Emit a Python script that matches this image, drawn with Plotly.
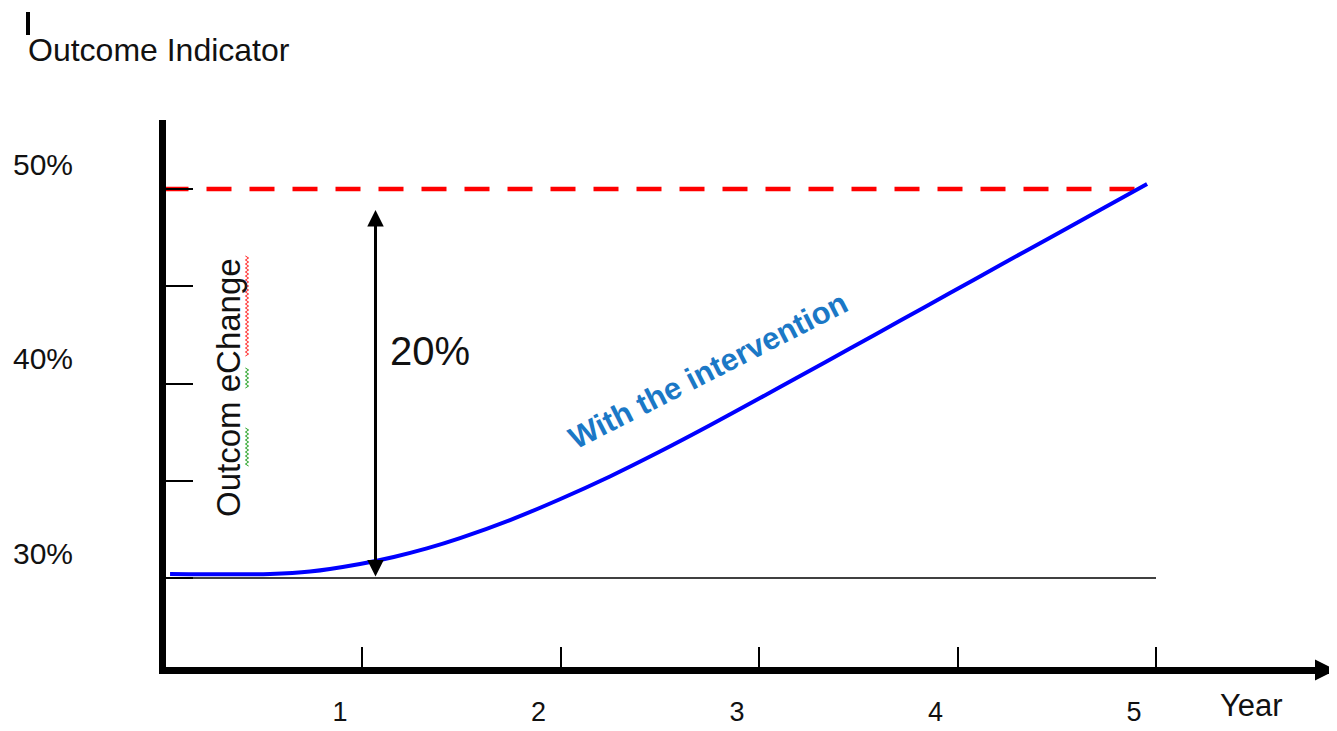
import numpy as np
import plotly.graph_objects as go

# ---------------- data ----------------
years = [1, 2, 3, 4, 5]
year_labels = ["1", "2", "3", "4", "5"]
y_ticks = [30, 35, 40, 45, 50]
y_tick_labels = ["30%", "", "40%", "", "50%"]

curve_x = [0.033, 0.537, 0.738, 0.990, 1.160, 1.327, 1.494, 1.746, 1.997, 2.249, 2.501,
           2.753, 3.005, 3.207, 3.458, 3.710, 3.962, 4.214, 4.466, 4.718, 4.955]
curve_y = [30.21, 30.21, 30.33, 30.72, 31.08, 31.52, 32.05, 32.98, 34.05, 35.22, 36.50,
           37.85, 39.25, 40.38, 41.80, 43.22, 44.65, 46.08, 47.50, 48.92, 50.26]

baseline_value = 30
target_value = 50
target_x = [0.0, 4.955]
baseline_x = [0.0, 5.0]
change_x = 1.068
change_top = 48.92
change_label = "20%"

# ---------------- layout constants (target pixels) ----------------
W, H = 1337, 731
OFF = 8                      # page body margin in the browser
X0PX, XS = 163.5, 198.5      # px of x=0, px per year
Y50PX, YS = 189.0, 19.45     # px of 50%, px per percentage point
L, R, T, B = 166, 1330, 120, 667   # plot-area edges (target pixels)

def px2x(px):
    return (px - X0PX) / XS

def py2y(py):
    return 50 - (py - Y50PX) / YS

def pxpaper(px):
    return (px - L) / (R - L)

def pypaper(py):
    return (B - py) / (B - T)

FONT = "Arial, Liberation Sans, sans-serif"

fig = go.Figure()

# target dashed line
fig.add_trace(go.Scatter(x=target_x, y=[target_value] * 2, mode="lines",
                         line=dict(color="#ff0000", width=4.5, dash="25px,18px"),
                         hoverinfo="skip"))
# baseline thin line
fig.add_trace(go.Scatter(x=baseline_x, y=[baseline_value] * 2, mode="lines",
                         line=dict(color="#000000", width=1.5), hoverinfo="skip"))
# intervention curve
fig.add_trace(go.Scatter(x=curve_x, y=curve_y, mode="lines",
                         line=dict(color="#0000ff", width=4, shape="spline", smoothing=0.8),
                         hoverinfo="skip"))

# spell-check squiggles beside the rotated label (decoration)
def squiggle(px, py0, py1, color):
    ys = np.arange(py0, py1 + 0.1, 2.0)
    xs = px + np.where(np.arange(len(ys)) % 2 == 0, -1.6, 1.6)
    fig.add_trace(go.Scatter(x=px2x(xs), y=py2y(ys), mode="lines",
                             line=dict(color=color, width=1), hoverinfo="skip"))

squiggle(247, 256, 357, "#ff2020")
squiggle(247, 368, 388, "#20a020")
squiggle(247, 428, 467, "#20a020")

annotations = []
# double-headed change arrow
annotations.append(dict(x=change_x, y=change_top, ax=change_x, ay=baseline_value,
                        xref="x", yref="y", axref="x", ayref="y", text="",
                        showarrow=True, arrowhead=2, startarrowhead=2,
                        arrowside="end+start", arrowwidth=3, arrowsize=1.1,
                        startarrowsize=1.1, arrowcolor="#000000"))
annotations.append(dict(x=px2x(388), y=py2y(351), xref="x", yref="y", text=change_label,
                        showarrow=False, xanchor="left", yanchor="middle",
                        font=dict(family=FONT, size=40, color="#111111")))
# rotated labels
annotations.append(dict(x=px2x(228), y=py2y(388), xref="x", yref="y", text="Outcom eChange",
                        showarrow=False, textangle=-90, xanchor="center", yanchor="middle",
                        font=dict(family=FONT, size=33, color="#111111")))
annotations.append(dict(x=px2x(708), y=py2y(370), xref="x", yref="y",
                        text="<b>With the intervention</b>",
                        showarrow=False, textangle=-27, xanchor="center", yanchor="middle",
                        font=dict(family=FONT, size=31, color="#1b78c6")))
# titles
annotations.append(dict(x=pxpaper(26), y=pypaper(50), xref="paper", yref="paper",
                        text="Outcome Indicator", showarrow=False,
                        xanchor="left", yanchor="middle",
                        font=dict(family=FONT, size=32, color="#111111")))
annotations.append(dict(x=pxpaper(1251), y=pypaper(705), xref="paper", yref="paper",
                        text="Year", showarrow=False, xanchor="center", yanchor="middle",
                        font=dict(family=FONT, size=31, color="#111111")))
# x-axis arrowhead
annotations.append(dict(x=pxpaper(1336), y=pypaper(670), xref="paper", yref="paper",
                        ax=-40, ay=0, text="", showarrow=True, arrowhead=2,
                        arrowwidth=6, arrowsize=0.7, arrowcolor="#000000"))

shapes = [
    # text cursor mark at top-left
    dict(type="line", xref="paper", yref="paper",
         x0=pxpaper(28), x1=pxpaper(28), y0=pypaper(12), y1=pypaper(35),
         line=dict(color="#000000", width=4)),
]

fig.update_layout(
    width=W - OFF, height=H - OFF,
    margin=dict(l=L - OFF, r=W - R, t=T - OFF, b=H - B, pad=0),
    paper_bgcolor="white", plot_bgcolor="white",
    showlegend=False,
    annotations=annotations,
    shapes=shapes,
    xaxis=dict(range=[px2x(L), px2x(R)], showgrid=False, zeroline=False,
               automargin=False,
               showline=True, linewidth=7, linecolor="#000000",
               tickmode="array", tickvals=years, ticktext=year_labels,
               ticks="inside", ticklen=20, tickwidth=1.5, tickcolor="#000000",
               ticklabelshift=-22, ticklabelstandoff=15,
               tickfont=dict(family=FONT, size=27, color="#111111")),
    yaxis=dict(range=[py2y(B), py2y(T)], showgrid=False, zeroline=False,
               automargin=False,
               showline=True, linewidth=7, linecolor="#000000",
               tickmode="array", tickvals=y_ticks, ticktext=y_tick_labels,
               ticks="inside", ticklen=27, tickwidth=1.5, tickcolor="#000000",
               ticklabelshift=-25, ticklabelstandoff=80,
               tickfont=dict(family=FONT, size=30, color="#111111")),
)

fig.write_html("out.html")
